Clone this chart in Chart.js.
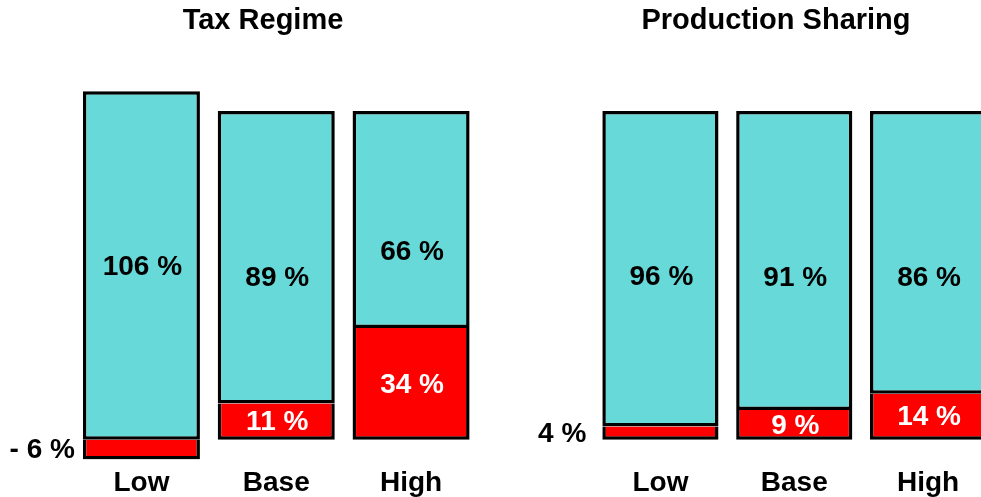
<!DOCTYPE html>
<html>
<head>
<meta charset="utf-8">
<script src="https://cdn.jsdelivr.net/npm/chart.js@4/dist/chart.umd.min.js"></script>
<style>
  html, body { margin: 0; padding: 0; background: #ffffff; overflow: hidden; }
  #wrap { position: relative; width: 981px; height: 497px; overflow: hidden; }
  canvas { position: absolute; top: 0; }
  #tax { left: 0; }
  #ps { left: 526px; }
</style>
</head>
<body>
<div id="wrap">
  <canvas id="tax" width="526" height="497"></canvas>
  <canvas id="ps" width="500" height="497"></canvas>
</div>
<script>
// Cases along the x axis
const categories = ['Low', 'Base', 'High'];

// Tax Regime: red (lower) and cyan (upper) shares, in percent
const taxRedShare = [-6, 11, 34];
const taxCyanShare = [106, 89, 66];

// Production Sharing: red (lower) and cyan (upper) shares, in percent
const psRedShare = [4, 9, 14];
const psCyanShare = [96, 91, 86];

const RED = '#ff0000';
const CYAN = '#66d9d8';
const FONT = '"Liberation Sans", Arial, Helvetica, sans-serif';

function pctText(v) {
  return (v < 0 ? '- ' + Math.abs(v) : String(v)) + ' %';
}

// Writes each segment's value on the bar; tiny red segments get their label to the left
const valueLabels = {
  id: 'valueLabels',
  afterDatasetsDraw(chart, args, opts) {
    const ctx = chart.ctx;
    ctx.save();
    ctx.font = 'bold 28px ' + FONT;
    ctx.textBaseline = 'middle';
    chart.data.datasets.forEach((ds, di) => {
      const meta = chart.getDatasetMeta(di);
      meta.data.forEach((bar, i) => {
        const v = ds.data[i];
        const text = pctText(v);
        const mid = (bar.y + bar.base) / 2;
        if (di === 0 && Math.abs(v) < 7) {
          ctx.fillStyle = '#000000';
          ctx.textAlign = 'right';
          ctx.fillText(text, bar.x - bar.width / 2 - opts.outsideGap, mid + 1);
        } else {
          ctx.fillStyle = di === 0 ? '#ffffff' : '#000000';
          ctx.textAlign = 'center';
          const shift = (opts.shift[di] && opts.shift[di][i]) || 0;
          ctx.fillText(text, bar.x + 1, mid + shift + 1);
        }
      });
    });
    ctx.restore();
  }
};

// sidePad is applied on both sides so the title stays centred on the canvas;
// the hidden y axis takes up the remaining room on the left of the bars.
function makePanel(canvasId, title, red, cyan, sidePad, axisWidth, labelOpts) {
  return new Chart(document.getElementById(canvasId), {
    type: 'bar',
    data: {
      labels: categories,
      datasets: [
        {
          data: red,
          backgroundColor: RED,
          borderColor: '#000000',
          borderWidth: { top: 0, right: 3.5, bottom: 3.5, left: 3.5 },
          borderSkipped: false,
          barPercentage: 0.868,
          categoryPercentage: 1.0
        },
        {
          data: cyan,
          backgroundColor: CYAN,
          borderColor: '#000000',
          borderWidth: 3.5,
          borderSkipped: false,
          barPercentage: 0.868,
          categoryPercentage: 1.0
        }
      ]
    },
    options: {
      responsive: false,
      animation: false,
      layout: { padding: { left: sidePad, right: sidePad, top: 0, bottom: -10 } },
      plugins: {
        legend: { display: false },
        tooltip: { enabled: false },
        title: {
          display: true,
          text: title,
          color: '#000000',
          font: { family: FONT, size: 29, weight: 'bold', lineHeight: 1.2 },
          padding: { top: 4, bottom: 39.3 }
        },
        valueLabels: labelOpts
      },
      scales: {
        x: {
          stacked: true,
          grid: { display: false, drawTicks: false },
          border: { display: false },
          ticks: {
            color: '#000000',
            padding: 7,
            font: { family: FONT, size: 28, weight: 'bold', lineHeight: 1.2 }
          }
        },
        y: {
          stacked: true,
          display: true,
          min: -6,
          max: 110,
          grid: { display: false, drawTicks: false },
          border: { display: false },
          ticks: { display: false },
          afterFit(scale) { scale.width = axisWidth; }
        }
      }
    },
    plugins: [valueLabels]
  });
}

makePanel('tax', 'Tax Regime', taxRedShare, taxCyanShare, 47.5, 26.5,
  { outsideGap: 8, shift: [[0, 0, 0], [1, 20, 32]] });
makePanel('ps', 'Production Sharing', psRedShare, psCyanShare, 31, 36.5,
  { outsideGap: 16, shift: [[0, 0, 0], [8, 17, 25]] });
</script>
</body>
</html>
